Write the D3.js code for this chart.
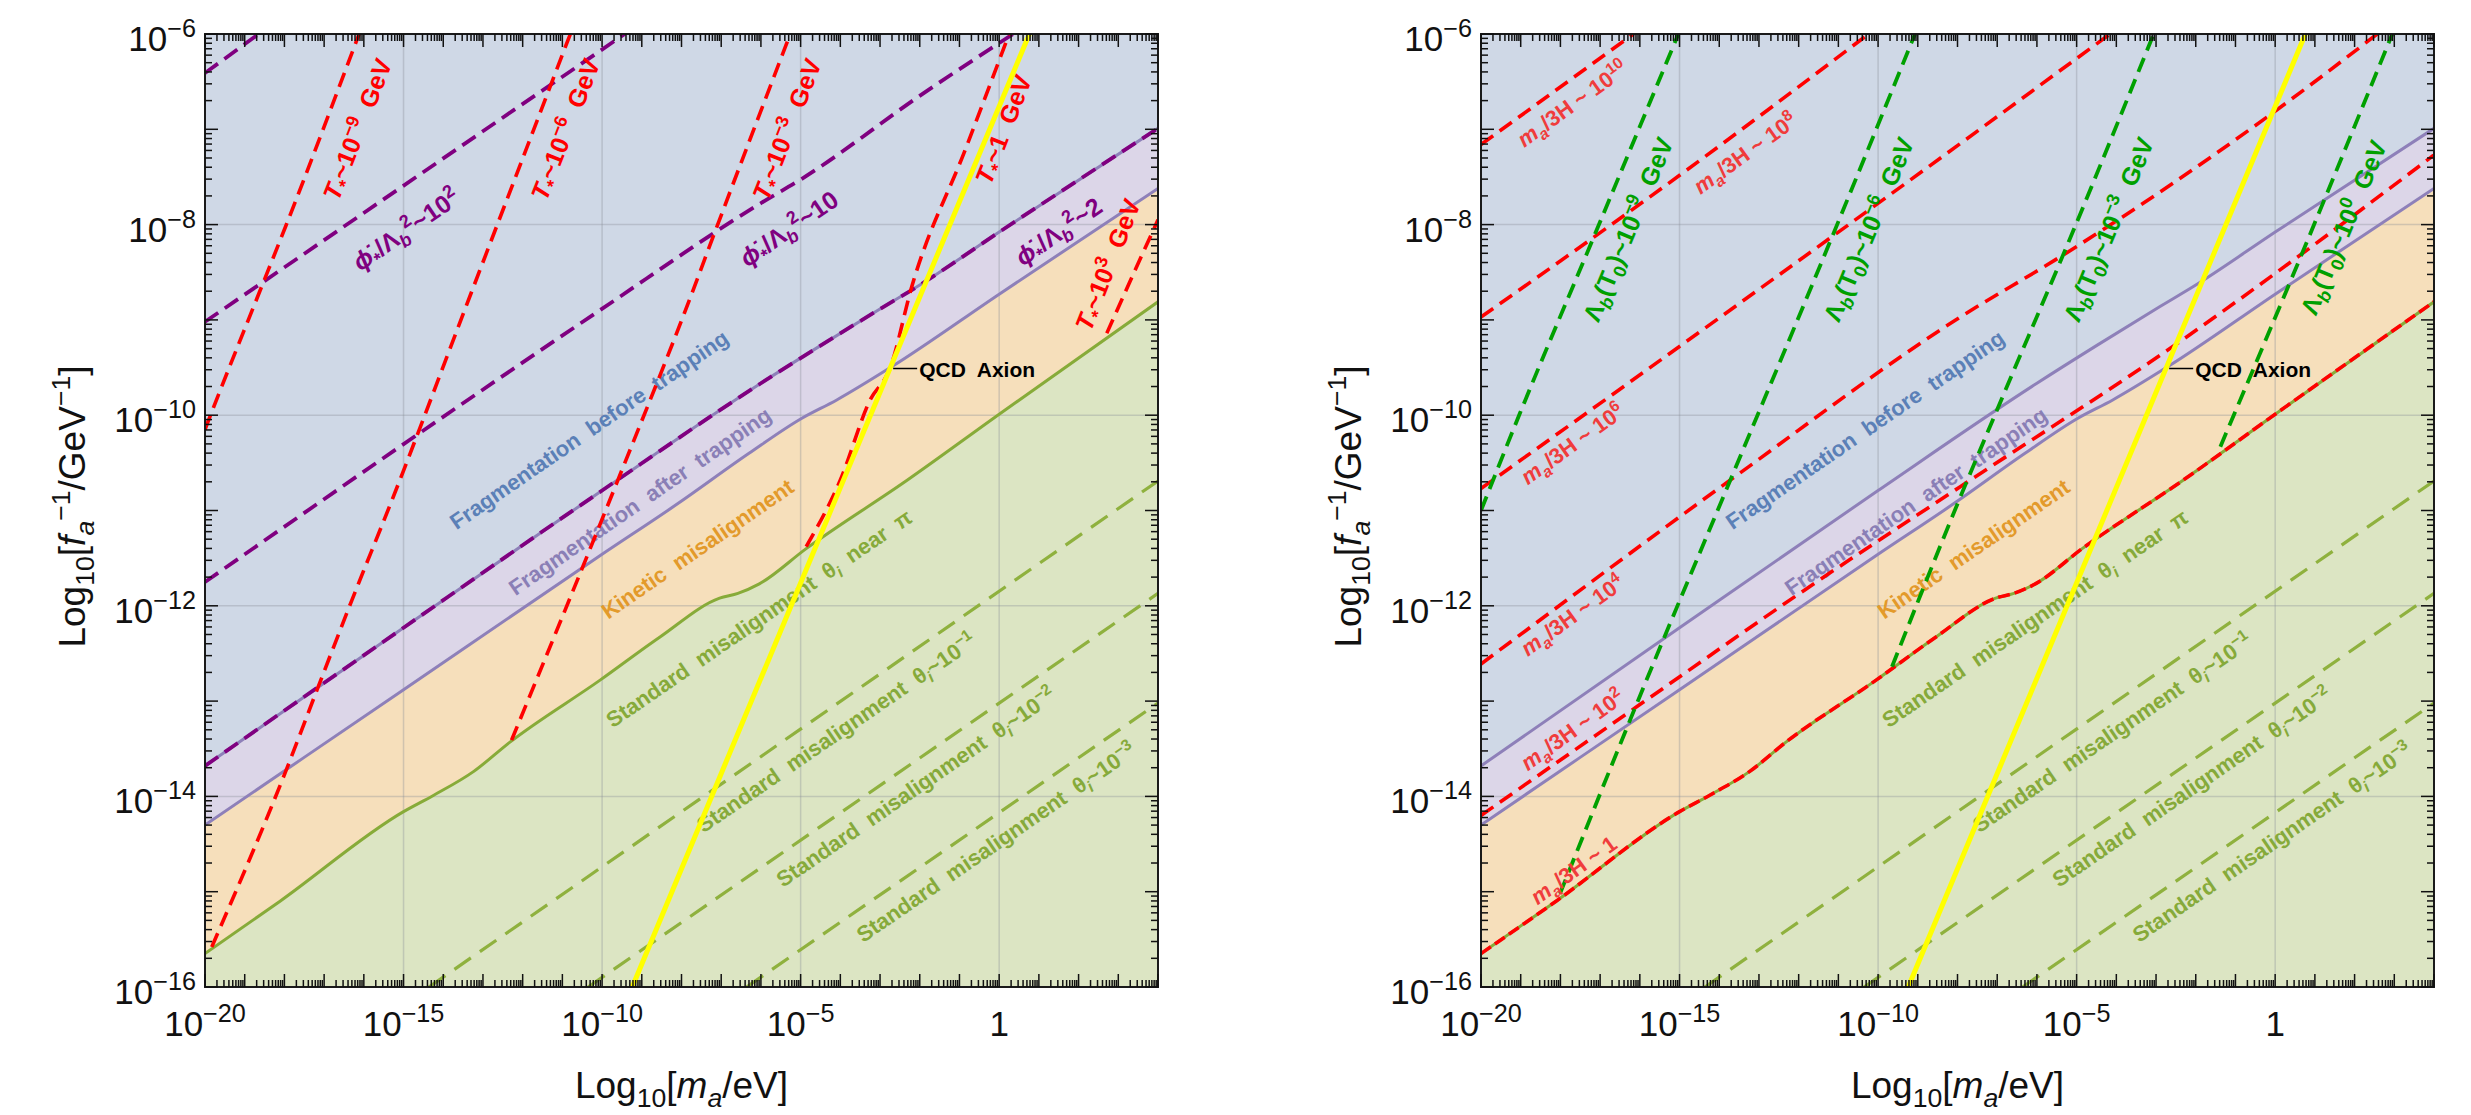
<!DOCTYPE html>
<html>
<head>
<meta charset="utf-8">
<script src="https://cdn.jsdelivr.net/npm/d3@7"></script>
<style>
  body { margin: 0; background: #fff; }
  svg text { font-family: "Liberation Sans", Arial, sans-serif; }
</style>
</head>
<body>
<svg id="chart" width="2471" height="1115"></svg>
<script>
// axes, in log10 units
const xDomain = [-20, 4];
const yDomain = [-16, -6];
const xTickVals = [-20, -15, -10, -5, 0];
const xTickText = ["10^{−20}", "10^{−15}", "10^{−10}", "10^{−5}", "1"];
const yTickVals = [-16, -14, -12, -10, -8, -6];
const yTickText = ["10^{−16}", "10^{−14}", "10^{−12}", "10^{−10}", "10^{−8}", "10^{−6}"];

// region boundaries (shared by both panels)
const upperX = [-20, -15, -10, -6.02, -4.5, -2.9, -2.06, 0.03, 4];
const upperY = [-13.68, -12.23, -10.79, -9.67, -9.27, -8.86, -8.65, -8.07, -6.99];
const lowerX = [-20, -15, -10, -8.1, -6.3, -5, -4.09, -2.7, 0, 4];
const lowerY = [-14.3, -12.88, -11.46, -10.93, -10.4, -10.04, -9.84, -9.49, -8.73, -7.62];
const greenX = [-20, -18.11, -15, -14.25, -13.24, -12.32, -10.05, -8.55, -7.04, -6.58, -6.04, -4.86, -2.31, 0, 4];
const greenY = [-15.65, -15.1, -14.16, -13.99, -13.74, -13.43, -12.78, -12.33, -11.92, -11.87, -11.77, -11.4, -10.68, -9.99, -8.81];

// standard misalignment with small theta_i
const theta1X = [-14.36, 4], theta1Y = [-16, -10.69];
const theta2X = [-10.35, 4], theta2Y = [-16, -11.87];
const theta3X = [-6.36, 4], theta3Y = [-16, -13.02];

// QCD axion band
const qcdX = [-9.24, 0.76], qcdY = [-16, -6];
const qcdPoint = [-2.72, -9.51];

// left panel: phi_dot / Lambda_b^2 contours
const phi1000X = [-20, -18.65], phi1000Y = [-6.41, -6];
const phi100X = [-20, -9.43], phi100Y = [-9.02, -6];
const phi10X = [-20, -10.06, -6.02, -5.01, -1.9, 0.35], phi10Y = [-11.75, -8.9, -7.78, -7.53, -6.62, -6];

// left panel: T_* contours
const tm9X = [-20, -19.88, -18.64, -17.97, -16.12];
const tm9Y = [-10.15, -10.02, -8.72, -8.02, -6];
const tm6X = [-19.83, -17.98, -17.14, -16.3, -15.29, -13.29, -10.8];
const tm6Y = [-15.58, -13.75, -12.84, -11.94, -10.89, -8.71, -6];
const tm3X = [-12.28, -9.64, -7.8, -7.17, -5.26];
const tm3Y = [-13.41, -10.72, -8.79, -8.09, -6];
const t0X = [-4.86, -4.0, -3.25, -2.75, -2.2, -0.84, 0.25];
const t0Y = [-11.38, -10.68, -9.84, -9.51, -8.65, -7.2, -6];
const tp3X = [2.71, 3.4, 4], tp3Y = [-9.14, -8.5, -7.95];

// right panel: m_a/3H contours
const h10X = [-20, -16.16], h10Y = [-7.16, -6];
const h8X = [-20, -14.99, -10.24], h8Y = [-8.97, -7.48, -6];
const h6X = [-20, -7.93, -4.16], h6Y = [-10.77, -7.15, -6];
const h4X = [-20, -13.72, -7.93, -5.42, 0.03, 2.57], h4Y = [-12.61, -10.68, -8.97, -8.34, -6.8, -6];
const h2X = [-20, -16.08, -11.8, -7.93, -2.65, 4], h2Y = [-14.2, -13.06, -11.82, -10.75, -9.3, -7.27];

// right panel: Lambda_b(T_0) contours
const lam9X = [-20, -19.02, -17.17, -15.03], lam9Y = [-11.0, -9.98, -8.14, -6];
const lam6X = [-18.01, -16.08, -13.72, -11.17, -9.07], lam6Y = [-15.02, -13.03, -10.68, -8.14, -6];
const lam3X = [-9.65, -7.93, -7.01, -5.08, -3.06], lam3Y = [-12.64, -10.86, -9.95, -8.06, -6];
const lam0X = [-1.38, 0.64, 2.95], lam0Y = [-10.33, -8.34, -6];

// labels (text, centre in data units)
const regionText = ["Fragmentation  before  trapping", "Fragmentation  after  trapping", "Kinetic  misalignment",
  "Standard  misalignment  θ_{%i%}  near  π", "Standard  misalignment  θ_{%i%}~10^{−1}",
  "Standard  misalignment  θ_{%i%}~10^{−2}", "Standard  misalignment  θ_{%i%}~10^{−3}"];
const regionLabX = [-10.33, -9.05, -7.6, -6.05, -4.1, -2.1, -0.08];
const regionLabY = [-10.15, -10.9, -11.4, -12.13, -13.33, -13.9, -14.48];
const phiText = ["%ϕ̇%_{*}/Λ_{%b%}^{2}~10^{2}", "%ϕ̇%_{*}/Λ_{%b%}^{2}~10", "%ϕ̇%_{*}/Λ_{%b%}^{2}~2"];
const phiLabX = [-14.94, -5.3, 1.49];
const phiLabY = [-8.05, -8.04, -8.07];
const tText = ["%T%_{*}~10^{−9}  GeV", "%T%_{*}~10^{−6}  GeV", "%T%_{*}~10^{−3}  GeV", "%T%_{*}~1  GeV", "%T%_{*}~10^{3}  GeV"];
const tLabX = [-16.17, -10.93, -5.35, 0.1, 2.73];
const tLabY = [-7.0, -7.0, -7.0, -7.0, -8.42];
const hText = ["%m%_{%a%}/3H ~ 1", "%m%_{%a%}/3H ~ 10^{2}", "%m%_{%a%}/3H ~ 10^{4}", "%m%_{%a%}/3H ~ 10^{6}", "%m%_{%a%}/3H ~ 10^{8}", "%m%_{%a%}/3H ~ 10^{10}"];
const hLabX = [-17.67, -17.7, -17.7, -17.7, -13.35, -17.7];
const hLabY = [-14.77, -13.3, -12.1, -10.3, -7.25, -6.73];
const lamText = ["Λ_{%b%}(T_{0})~10^{−9}  GeV", "Λ_{%b%}(T_{0})~10^{−6}  GeV", "Λ_{%b%}(T_{0})~10^{−3}  GeV", "Λ_{%b%}(T_{0})~10^{0}  GeV"];
const lamLabX = [-16.3, -10.24, -4.2, 1.72];
const lamLabY = [-8.05, -8.05, -8.05, -8.03];

// ---- layout ----
const W = 953, H = 953, TOP = 34;
const panelLeft = [205, 1481];
const svg = d3.select("#chart");
const x = d3.scaleLinear().domain(xDomain).range([0, W]);
const y = d3.scaleLinear().domain(yDomain).range([H, 0]);
const kx = x(1) - x(0), ky = y(0) - y(1);
const angle = s => -Math.atan(s * ky / kx) * 180 / Math.PI;

const pts = (xs, ys) => xs.map((v, i) => [v, ys[i]]).sort((a, b) => a[0] - b[0]);
const line = d3.line().x(d => x(d[0])).y(d => y(d[1])).curve(d3.curveMonotoneX);
const area = d3.area().x(d => x(d[0])).y0(H).y1(d => y(d[1])).curve(d3.curveMonotoneX);

// simple rich text: ^{..} superscript, _{..} subscript, %..% italic
function rich(text, str, fs) {
  let cur = 0, italic = false;
  const parts = str.match(/\^\{[^}]*\}|_\{[^}]*\}|[^_^]+|[_^]/g);
  parts.forEach(p => {
    let mode = 0, body = p;
    if (p.startsWith("^{")) { mode = -1; body = p.slice(2, -1); }
    else if (p.startsWith("_{")) { mode = 1; body = p.slice(2, -1); }
    const target = mode < 0 ? -0.4 * fs : mode > 0 ? 0.24 * fs : 0;
    const size = mode ? fs * 0.72 : fs;
    body.split("%").forEach((chunk, i) => {
      if (i > 0) italic = !italic;
      if (!chunk) return;
      text.append("tspan")
        .attr("dy", target - cur)
        .attr("font-size", size)
        .attr("font-style", italic ? "italic" : "normal")
        .text(chunk);
      cur = target;
    });
  });
  return text;
}

function label(g, str, cx, cy, ang, fs, color, weight) {
  const t = g.append("text")
    .attr("transform", `translate(${x(cx)},${y(cy)}) rotate(${ang})`)
    .attr("y", 0.36 * fs)
    .attr("text-anchor", "middle")
    .attr("font-size", fs)
    .attr("font-weight", weight || "bold")
    .attr("fill", color)
    .attr("xml:space", "preserve")
    .style("white-space", "pre");
  rich(t, str, fs);
}

function curve(g, xs, ys, color, width, dash) {
  g.append("path")
    .attr("d", line(pts(xs, ys)))
    .attr("fill", "none")
    .attr("stroke", color)
    .attr("stroke-width", width)
    .attr("stroke-dasharray", dash || null);
}

function panel(i) {
  const g = svg.append("g").attr("transform", `translate(${panelLeft[i]},${TOP})`);
  g.append("clipPath").attr("id", "clip" + i)
    .append("rect").attr("width", W).attr("height", H);
  const inner = g.append("g").attr("clip-path", `url(#clip${i})`);

  inner.append("rect").attr("width", W).attr("height", H).attr("fill", "#cfd8e6");
  inner.append("path").attr("d", area(pts(upperX, upperY))).attr("fill", "#dcd6e8");
  inner.append("path").attr("d", area(pts(lowerX, lowerY))).attr("fill", "#f6dfbb");
  inner.append("path").attr("d", area(pts(greenX, greenY))).attr("fill", "#dce5c3");

  // grid
  inner.selectAll(".gx").data(xTickVals).join("line")
    .attr("x1", d => x(d)).attr("x2", d => x(d)).attr("y1", 0).attr("y2", H)
    .attr("stroke", "#8a8f99").attr("stroke-opacity", 0.35).attr("stroke-width", 1.5);
  inner.selectAll(".gy").data(yTickVals).join("line")
    .attr("y1", d => y(d)).attr("y2", d => y(d)).attr("x1", 0).attr("x2", W)
    .attr("stroke", "#8a8f99").attr("stroke-opacity", 0.35).attr("stroke-width", 1.5);

  curve(inner, upperX, upperY, "#8e80b9", 3);
  curve(inner, lowerX, lowerY, "#8e80b9", 3);
  curve(inner, greenX, greenY, "#87ab39", 3);
  curve(inner, theta1X, theta1Y, "#8fb13e", 3.2, "20,11");
  curve(inner, theta2X, theta2Y, "#8fb13e", 3.2, "20,11");
  curve(inner, theta3X, theta3Y, "#8fb13e", 3.2, "20,11");

  // shared region labels
  const regionColor = ["#5b80b7", "#8a7fb6", "#e39a2b", "#86aa3a", "#86aa3a", "#86aa3a", "#86aa3a"];
  regionText.forEach((s, k) => {
    label(inner, s, regionLabX[k], regionLabY[k], angle(0.287), 22, regionColor[k]);
  });
  return { g, inner };
}

function axes(g) {
  g.append("rect").attr("width", W).attr("height", H)
    .attr("fill", "none").attr("stroke", "#1a1a1a").attr("stroke-width", 2);
  // ticks: decades and minor 2..9, on all four sides
  const xt = [], yt = [];
  for (let d = xDomain[0]; d <= xDomain[1]; d++) {
    xt.push([d, 13]);
    for (let k = 2; k < 10; k++) if (d + Math.log10(k) < xDomain[1]) xt.push([d + Math.log10(k), 7]);
  }
  for (let d = yDomain[0]; d <= yDomain[1]; d++) {
    yt.push([d, 13]);
    for (let k = 2; k < 10; k++) if (d + Math.log10(k) < yDomain[1]) yt.push([d + Math.log10(k), 7]);
  }
  const tk = g.append("g").attr("stroke", "#111").attr("stroke-width", 1.5);
  xt.forEach(([v, len]) => {
    tk.append("line").attr("x1", x(v)).attr("x2", x(v)).attr("y1", H).attr("y2", H - len);
    tk.append("line").attr("x1", x(v)).attr("x2", x(v)).attr("y1", 0).attr("y2", len);
  });
  yt.forEach(([v, len]) => {
    tk.append("line").attr("y1", y(v)).attr("y2", y(v)).attr("x1", 0).attr("x2", len);
    tk.append("line").attr("y1", y(v)).attr("y2", y(v)).attr("x1", W).attr("x2", W - len);
  });
  // tick labels
  xTickVals.forEach((v, k) => {
    const t = g.append("text").attr("x", x(v)).attr("y", H + 49)
      .attr("text-anchor", "middle").attr("font-size", 35).attr("fill", "#111");
    rich(t, xTickText[k], 35);
  });
  yTickVals.forEach((v, k) => {
    const t = g.append("text").attr("x", -9).attr("y", y(v) + 17)
      .attr("text-anchor", "end").attr("font-size", 35).attr("fill", "#111");
    rich(t, yTickText[k], 35);
  });
  // axis titles
  const xTitle = g.append("text").attr("x", W / 2).attr("y", H + 111)
    .attr("text-anchor", "middle").attr("font-size", 37).attr("fill", "#111");
  rich(xTitle, "Log_{10}[%m%_{%a%}/eV]", 37);
  const yTitle = g.append("text")
    .attr("transform", `translate(-120,${H / 2 - 4}) rotate(-90)`)
    .attr("text-anchor", "middle").attr("font-size", 37).attr("fill", "#111");
  rich(yTitle, "Log_{10}[%f%_{%a%}^{−1}/GeV^{−1}]", 37);
}

function qcdLabel(g) {
  const px = x(qcdPoint[0]) + 2, py = y(qcdPoint[1]);
  g.append("line").attr("x1", px).attr("x2", px + 24).attr("y1", py).attr("y2", py)
    .attr("stroke", "#000").attr("stroke-width", 1.5);
  g.append("text").attr("x", px + 26).attr("y", py + 8)
    .attr("font-size", 21).attr("font-weight", "bold").attr("fill", "#000")
    .attr("xml:space", "preserve").style("white-space", "pre")
    .text("QCD  Axion");
}

// ---- left panel ----
const L = panel(0);
curve(L.inner, upperX, upperY, "#800080", 3.8, "16,8");
curve(L.inner, phi10X, phi10Y, "#800080", 3.8, "16,8");
curve(L.inner, phi100X, phi100Y, "#800080", 3.8, "16,8");
curve(L.inner, phi1000X, phi1000Y, "#800080", 3.8, "16,8");
[[tm9X, tm9Y], [tm6X, tm6Y], [tm3X, tm3Y], [t0X, t0Y], [tp3X, tp3Y]].forEach(([a, b]) => {
  curve(L.inner, a, b, "#ff0000", 3.6, "15,8");
});
curve(L.inner, qcdX, qcdY, "#ffff00", 5);
phiText.forEach((s, k) => label(L.inner, s, phiLabX[k], phiLabY[k], angle(0.287), 25, "#800080"));
tText.forEach((s, k) => label(L.inner, s, tLabX[k], tLabY[k], angle(1.07), 25, "#ff0000"));
qcdLabel(L.inner);
axes(L.g);

// ---- right panel ----
const R = panel(1);
[[h10X, h10Y], [h8X, h8Y], [h6X, h6Y], [h4X, h4Y], [h2X, h2Y], [greenX, greenY]].forEach(([a, b], k) => {
  curve(R.inner, a, b, "#ff0000", 3.6, k === 5 ? "12,5" : "15,8");
});
[[lam9X, lam9Y], [lam6X, lam6Y], [lam3X, lam3Y], [lam0X, lam0Y]].forEach(([a, b]) => {
  curve(R.inner, a, b, "#00a000", 3.8, "15,8");
});
curve(R.inner, qcdX, qcdY, "#ffff00", 5);
hText.forEach((s, k) => label(R.inner, s, hLabX[k], hLabY[k], angle(0.3), 22, "#f03c3c"));
lamText.forEach((s, k) => label(R.inner, s, lamLabX[k], lamLabY[k], angle(1.0), 25, "#00a000"));
qcdLabel(R.inner);
axes(R.g);
</script>
</body>
</html>
